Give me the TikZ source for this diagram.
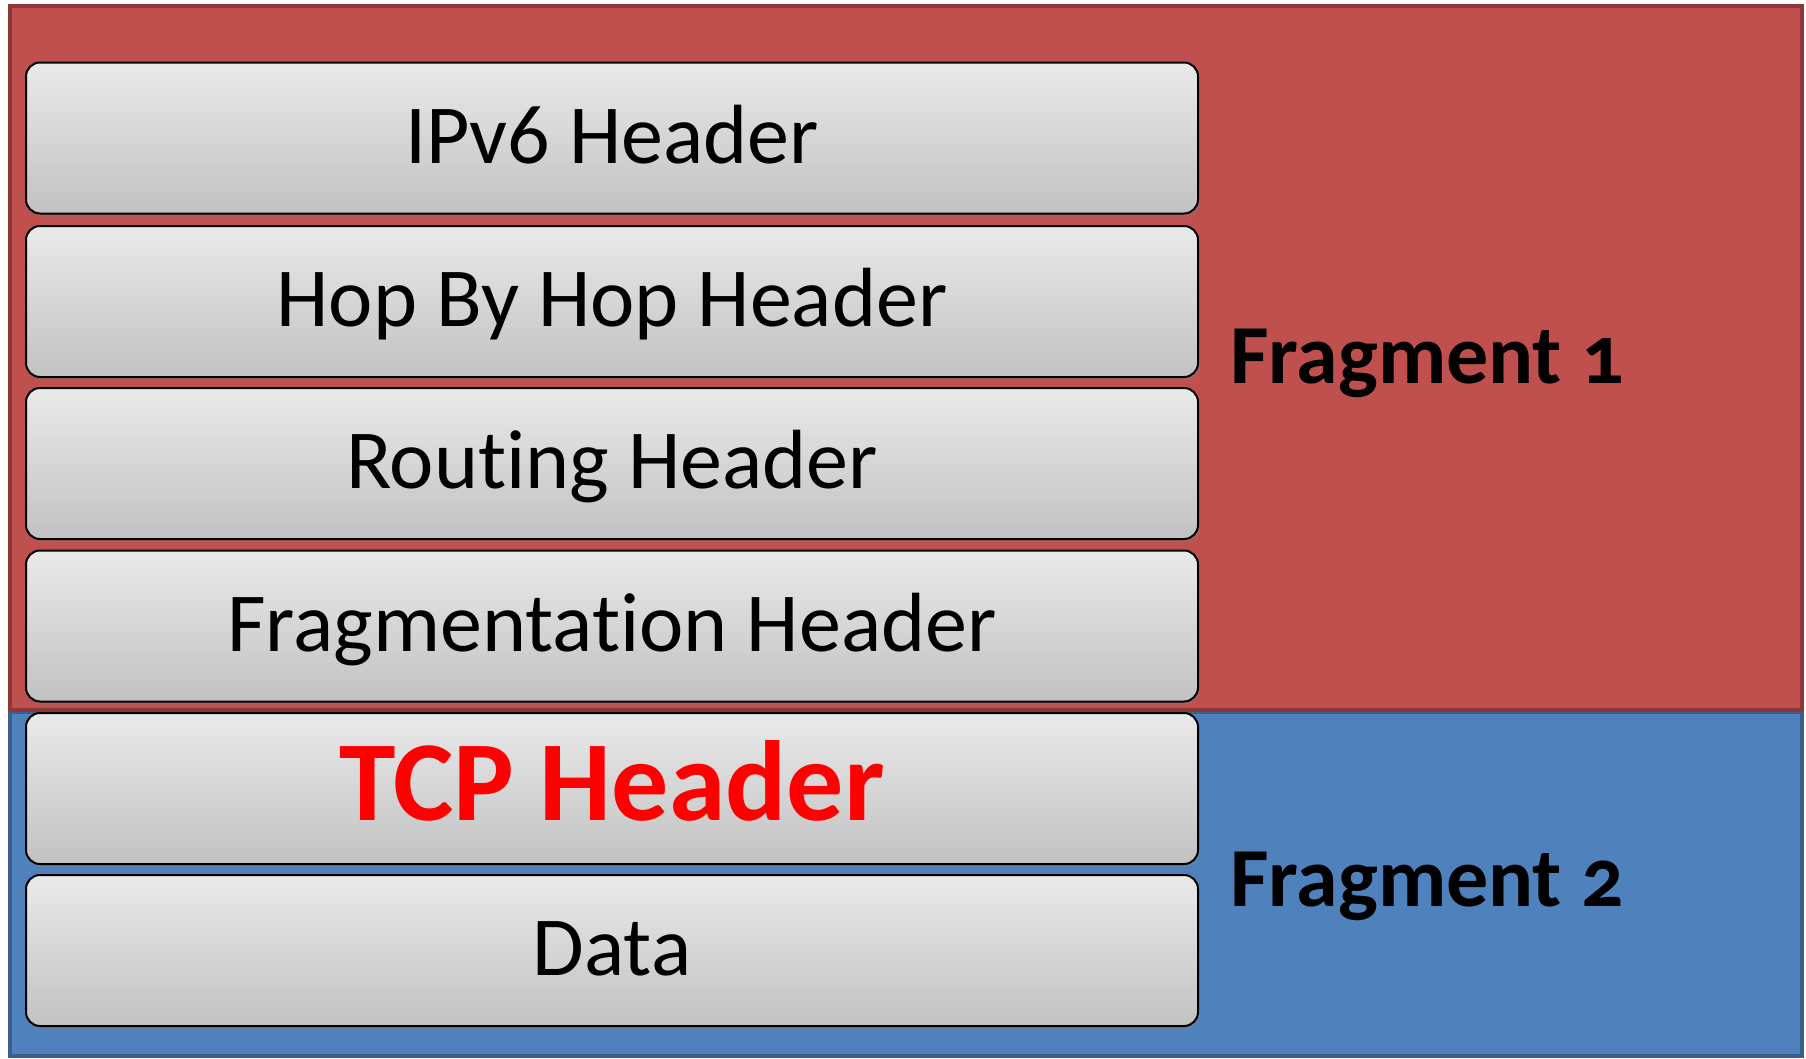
\documentclass[tikz,border=0pt]{standalone}
\usepackage{fontspec}
\setmainfont[Ligatures={NoCommon,NoContextual}]{Carlito}
\newfontfamily\fragfont[Numbers=OldStyle,Ligatures={NoCommon,NoContextual}]{Carlito}
\usetikzlibrary{shadows}
\definecolor{redfill}{HTML}{C0504D}
\definecolor{redline}{HTML}{8C3836}
\definecolor{bluefill}{HTML}{4F81BD}
\definecolor{blueline}{HTML}{3A5F8C}
\definecolor{tcpred}{HTML}{FF0000}
\tikzset{
  layerbox/.style={draw=black, line width=2pt, rounded corners=14pt,
    top color=gray!17, bottom color=gray!48,
    minimum width=1172pt, minimum height=151pt, inner sep=0pt,
    text height=60pt, text depth=10pt,
    font=\fontsize{84}{90}\selectfont,
    drop shadow={opacity=0.35, shadow xshift=2pt, shadow yshift=-3pt}},
  fraglabel/.style={anchor=base west, inner sep=0pt, font=\fragfont\bfseries\fontsize{84}{90}\selectfont}
}
\begin{document}
\begin{tikzpicture}[x=1pt,y=-1pt]
\useasboundingbox (0,0) rectangle (1806,1058);
\fill[white] (0,0) rectangle (1806,1058);
\draw[fill=bluefill, draw=blueline, line width=4pt] (10,712) rectangle (1802,1056);
\draw[fill=redfill, draw=redline, line width=4pt] (10,5.5) rectangle (1802,710);
\node[layerbox] (ipv6) at (612,138) {IPv6 Header};
\node[layerbox] (hop) at (612,301.5) {Hop By Hop Header};
\node[layerbox] (routing) at (612,463.5) {Routing Header};
\node[layerbox] (frag) at (612,626) {Fragmentation Header};
\node[layerbox, text=tcpred, text height=78pt, text depth=14pt, font=\bfseries\fontsize{114}{116}\selectfont] (tcp) at (612,788.5) {TCP Header};
\node[layerbox] (data) at (612,950.5) {Data};
\node[fraglabel] (f1) at (1230,383) {Fragment 1};
\node[fraglabel] (f2) at (1230,906) {Fragment 2};
\end{tikzpicture}
\end{document}
